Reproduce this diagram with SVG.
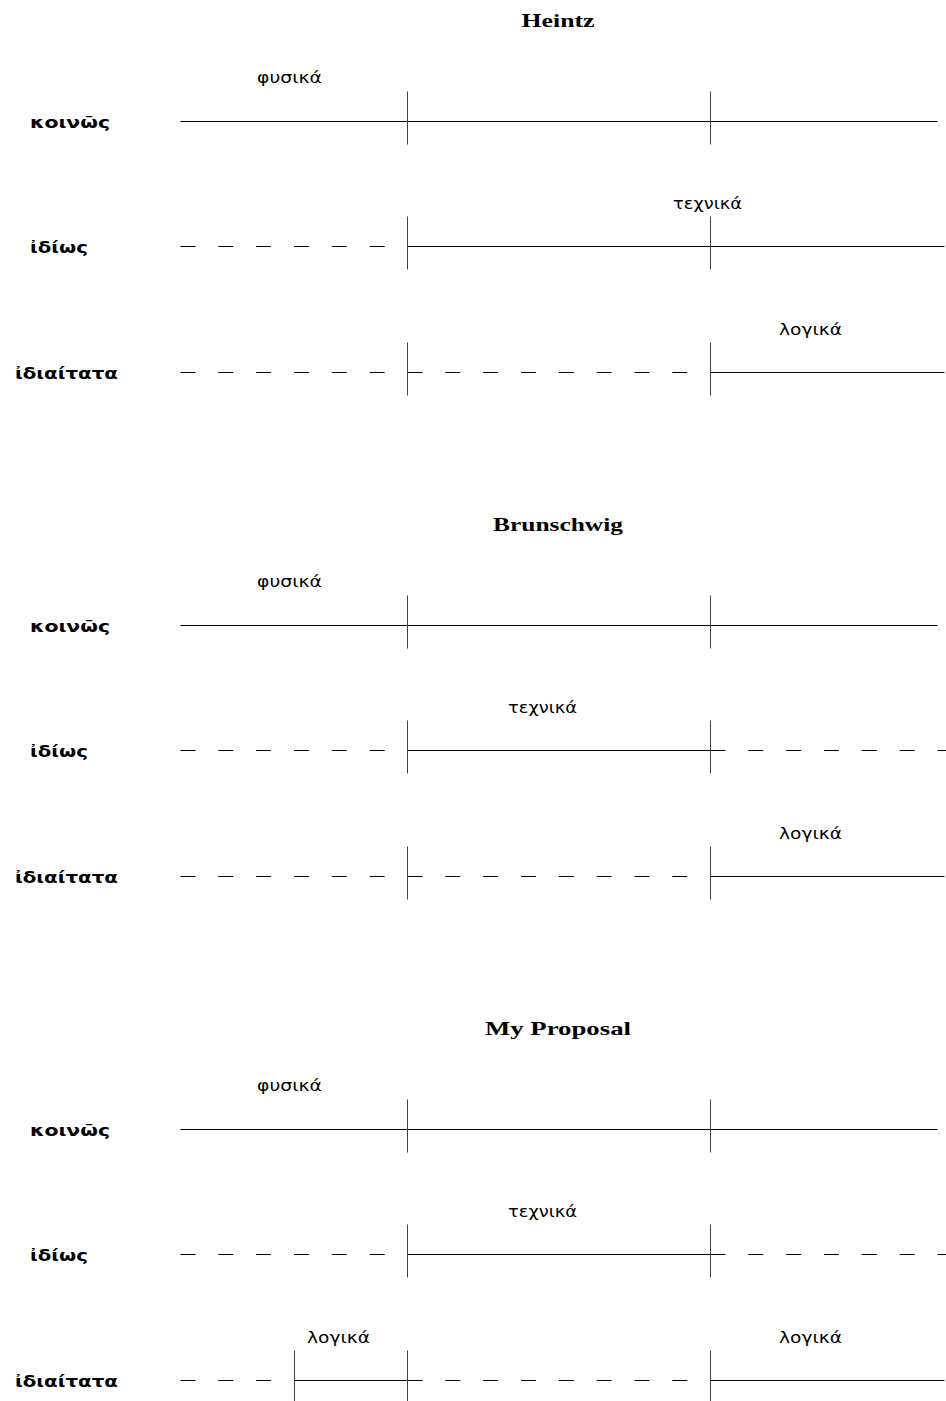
<svg xmlns="http://www.w3.org/2000/svg" width="946" height="1401" viewBox="0 0 946 1401">
<style>
.title{font-family:"Liberation Serif","DejaVu Serif",serif;font-weight:bold;font-size:19px;fill:#000}
.row{font-family:"DejaVu Sans","Noto Sans",sans-serif;font-weight:bold;font-size:16px;fill:#000}
.lab{font-family:"DejaVu Sans","Noto Sans",sans-serif;font-size:15px;fill:#000}
.solid{stroke:#000;stroke-width:1;fill:none}
.dash{stroke:#000;stroke-width:1;fill:none;stroke-dasharray:15 22.83}
.tick{stroke:#444;stroke-width:1;fill:none}
</style>
<rect width="946" height="1401" fill="#fff"/>

<g id="heintz">
  <text class="title" x="558" y="27" text-anchor="middle" textLength="73" lengthAdjust="spacingAndGlyphs">Heintz</text>
  <g id="heintz-labels">
    <text class="row" x="30" y="128" textLength="80" lengthAdjust="spacingAndGlyphs">κοινῶς</text>
    <text class="row" x="30" y="253" textLength="58" lengthAdjust="spacingAndGlyphs">ἰδίως</text>
    <text class="row" x="15" y="379" textLength="103" lengthAdjust="spacingAndGlyphs">ἰδιαίτατα</text>
    <text class="lab" x="257" y="83" textLength="65" lengthAdjust="spacingAndGlyphs">φυσικά</text>
    <text class="lab" x="673" y="209" textLength="69" lengthAdjust="spacingAndGlyphs">τεχνικά</text>
    <text class="lab" x="779" y="335" textLength="63" lengthAdjust="spacingAndGlyphs">λογικά</text>
  </g>
  <g id="heintz-lines" transform="translate(0.5,0.5)">
    <line class="solid" x1="180" y1="121" x2="937" y2="121"/>
    <line class="dash" x1="180" y1="246" x2="407" y2="246"/>
    <line class="solid" x1="407" y1="246" x2="944" y2="246"/>
    <line class="dash" x1="180" y1="372" x2="710" y2="372"/>
    <line class="solid" x1="710" y1="372" x2="944" y2="372"/>
    <line class="tick" x1="407" y1="91" x2="407" y2="144"/>
    <line class="tick" x1="710" y1="91" x2="710" y2="144"/>
    <line class="tick" x1="407" y1="216" x2="407" y2="269"/>
    <line class="tick" x1="710" y1="216" x2="710" y2="269"/>
    <line class="tick" x1="407" y1="342" x2="407" y2="395"/>
    <line class="tick" x1="710" y1="342" x2="710" y2="395"/>
  </g>
</g>

<g id="brunschwig" transform="translate(0,504)">
  <text class="title" x="558" y="27" text-anchor="middle" textLength="130" lengthAdjust="spacingAndGlyphs">Brunschwig</text>
  <g id="brunschwig-labels">
    <text class="row" x="30" y="128" textLength="80" lengthAdjust="spacingAndGlyphs">κοινῶς</text>
    <text class="row" x="30" y="253" textLength="58" lengthAdjust="spacingAndGlyphs">ἰδίως</text>
    <text class="row" x="15" y="379" textLength="103" lengthAdjust="spacingAndGlyphs">ἰδιαίτατα</text>
    <text class="lab" x="257" y="83" textLength="65" lengthAdjust="spacingAndGlyphs">φυσικά</text>
    <text class="lab" x="508" y="209" textLength="69" lengthAdjust="spacingAndGlyphs">τεχνικά</text>
    <text class="lab" x="779" y="335" textLength="63" lengthAdjust="spacingAndGlyphs">λογικά</text>
  </g>
  <g id="brunschwig-lines" transform="translate(0.5,0.5)">
    <line class="solid" x1="180" y1="121" x2="937" y2="121"/>
    <line class="dash" x1="180" y1="246" x2="407" y2="246"/>
    <line class="solid" x1="407" y1="246" x2="710" y2="246"/>
    <line class="dash" x1="710" y1="246" x2="946" y2="246"/>
    <line class="dash" x1="180" y1="372" x2="710" y2="372"/>
    <line class="solid" x1="710" y1="372" x2="944" y2="372"/>
    <line class="tick" x1="407" y1="91" x2="407" y2="144"/>
    <line class="tick" x1="710" y1="91" x2="710" y2="144"/>
    <line class="tick" x1="407" y1="216" x2="407" y2="269"/>
    <line class="tick" x1="710" y1="216" x2="710" y2="269"/>
    <line class="tick" x1="407" y1="342" x2="407" y2="395"/>
    <line class="tick" x1="710" y1="342" x2="710" y2="395"/>
  </g>
</g>

<g id="proposal" transform="translate(0,1008)">
  <text class="title" x="558" y="27" text-anchor="middle" textLength="146" lengthAdjust="spacingAndGlyphs">My Proposal</text>
  <g id="proposal-labels">
    <text class="row" x="30" y="128" textLength="80" lengthAdjust="spacingAndGlyphs">κοινῶς</text>
    <text class="row" x="30" y="253" textLength="58" lengthAdjust="spacingAndGlyphs">ἰδίως</text>
    <text class="row" x="15" y="379" textLength="103" lengthAdjust="spacingAndGlyphs">ἰδιαίτατα</text>
    <text class="lab" x="257" y="83" textLength="65" lengthAdjust="spacingAndGlyphs">φυσικά</text>
    <text class="lab" x="508" y="209" textLength="69" lengthAdjust="spacingAndGlyphs">τεχνικά</text>
    <text class="lab" x="307" y="335" textLength="63" lengthAdjust="spacingAndGlyphs">λογικά</text>
    <text class="lab" x="779" y="335" textLength="63" lengthAdjust="spacingAndGlyphs">λογικά</text>
  </g>
  <g id="proposal-lines" transform="translate(0.5,0.5)">
    <line class="solid" x1="180" y1="121" x2="937" y2="121"/>
    <line class="dash" x1="180" y1="246" x2="407" y2="246"/>
    <line class="solid" x1="407" y1="246" x2="710" y2="246"/>
    <line class="dash" x1="710" y1="246" x2="946" y2="246"/>
    <line class="dash" x1="180" y1="372" x2="294" y2="372"/>
    <line class="solid" x1="294" y1="372" x2="407" y2="372"/>
    <line class="dash" x1="407" y1="372" x2="710" y2="372"/>
    <line class="solid" x1="710" y1="372" x2="944" y2="372"/>
    <line class="tick" x1="407" y1="91" x2="407" y2="144"/>
    <line class="tick" x1="710" y1="91" x2="710" y2="144"/>
    <line class="tick" x1="407" y1="216" x2="407" y2="269"/>
    <line class="tick" x1="710" y1="216" x2="710" y2="269"/>
    <line class="tick" x1="294" y1="342" x2="294" y2="395"/>
    <line class="tick" x1="407" y1="342" x2="407" y2="395"/>
    <line class="tick" x1="710" y1="342" x2="710" y2="395"/>
  </g>
</g>
</svg>
